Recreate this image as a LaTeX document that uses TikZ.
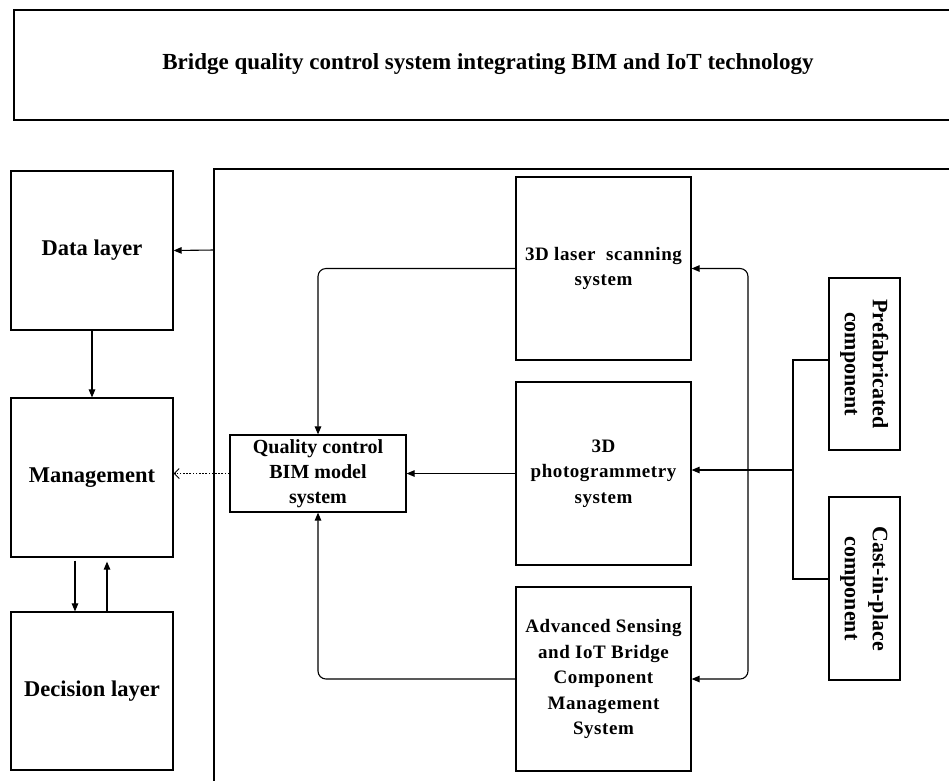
\documentclass[tikz,border=0pt]{standalone}
\usepackage{fontspec}
\usepackage{graphicx}
\setmainfont{Liberation Serif}
\newfontfamily\spacedserif[LetterSpace=3]{Liberation Serif}
\usetikzlibrary{arrows.meta}

\begin{document}
\begin{tikzpicture}[x=1pt,y=-1pt,
  frame/.style={draw=black, line width=1.2pt},
  box/.style={draw=black, line width=1.2pt, inner sep=0pt, align=center},
  layerbox/.style={box, minimum width=162pt, minimum height=159pt,
    font=\fontsize{22.5}{27}\selectfont\bfseries},
  sysbox/.style={box, minimum width=175pt, minimum height=183pt,
    font=\fontsize{19}{25.5}\selectfont\spacedserif\bfseries},
  partbox/.style={box, minimum width=71pt,
    font=\fontsize{22}{28}\selectfont\bfseries},
  wire/.style={line width=1.1pt},
  link/.style={wire, -{Triangle[length=8pt,width=6.5pt]}},
  both/.style={wire, {Triangle[length=8pt,width=6.5pt]}-{Triangle[length=8pt,width=6.5pt]}},
  dotlink/.style={line width=1pt, dash pattern=on 1.6pt off 1.6pt,
    -{Straight Barb[length=5pt,width=10pt,line width=0.9pt]}}
]
\useasboundingbox (0,0) rectangle (949,780);

% title banner (open on the right)
\draw[frame] (952,10) -- (14,10) -- (14,120) -- (952,120);
\node[anchor=base, font=\fontsize{23}{28}\selectfont\bfseries] (title) at (488,69)
  {Bridge quality control system integrating BIM and IoT technology};

% container of the quality control systems (open right and bottom)
\draw[frame] (952,169) -- (214,169) -- (214,783);
\coordinate (cin) at (214,250);

% layers on the left
\node[layerbox] (data) at (92,250.5) {Data layer};
\node[layerbox] (mgmt) at (92,477.5) {Management};
\node[layerbox, minimum height=158pt] (decision) at (92,691) {Decision layer};

% BIM model box
\node[box, minimum width=176pt, minimum height=77pt,
  font=\fontsize{20}{25}\selectfont\bfseries] (bim) at (318,473.5)
  {Quality control\\BIM model\\system};

% acquisition systems
\node[sysbox] (laser) at (603.5,268.5) {3D laser~ scanning\\system};
\node[sysbox] (photo) at (603.5,473.5) {3D\\photogrammetry\\system};
\node[sysbox, minimum height=184pt] (adv) at (603.5,679)
  {Advanced Sensing\\and IoT Bridge\\Component\\Management\\System};

% component types
\node[partbox, minimum height=172pt] (prefab) at (864.5,364)
  {\rotatebox{-90}{\begin{tabular}{@{}c@{}}Prefabricated\\component\end{tabular}}};
\node[partbox, minimum height=183pt] (cast) at (864.5,588.5)
  {\rotatebox{-90}{\begin{tabular}{@{}c@{}}Cast-in-place\\component\end{tabular}}};

% connectors on the left
\draw[link] (cin) -- (data.east);
\draw[link] (data.south) -- (mgmt.north);
\draw[link, shorten <=3pt] ([xshift=-17pt]mgmt.south) -- ([xshift=-17pt]decision.north);
\draw[link, shorten >=4pt] ([xshift=15pt]decision.north) -- ([xshift=15pt]mgmt.south);
\draw[dotlink] (bim.west) -- (mgmt.east |- bim.west);

% systems feeding the BIM model
\draw[link, rounded corners=8pt] (laser.west) -| (bim.north);
\draw[link] (photo.west) -- (bim.east);
\draw[link, rounded corners=8pt] (adv.west) -| (bim.south);

% bracket linking laser scanning and sensing systems
\coordinate (bb) at (748,679);
\draw[both, rounded corners=8pt] (laser.east) -| (bb) -- (adv.east);

% components feeding photogrammetry
\coordinate (jp) at (793,360);
\coordinate (jc) at (793,579);
\coordinate (jm) at (793,470);
\draw[wire] (prefab.west |- jp) -- (jp) -- (jc) -- (cast.west |- jc);
\draw[link] (jm) -- (photo.east |- jm);
\end{tikzpicture}
\end{document}
